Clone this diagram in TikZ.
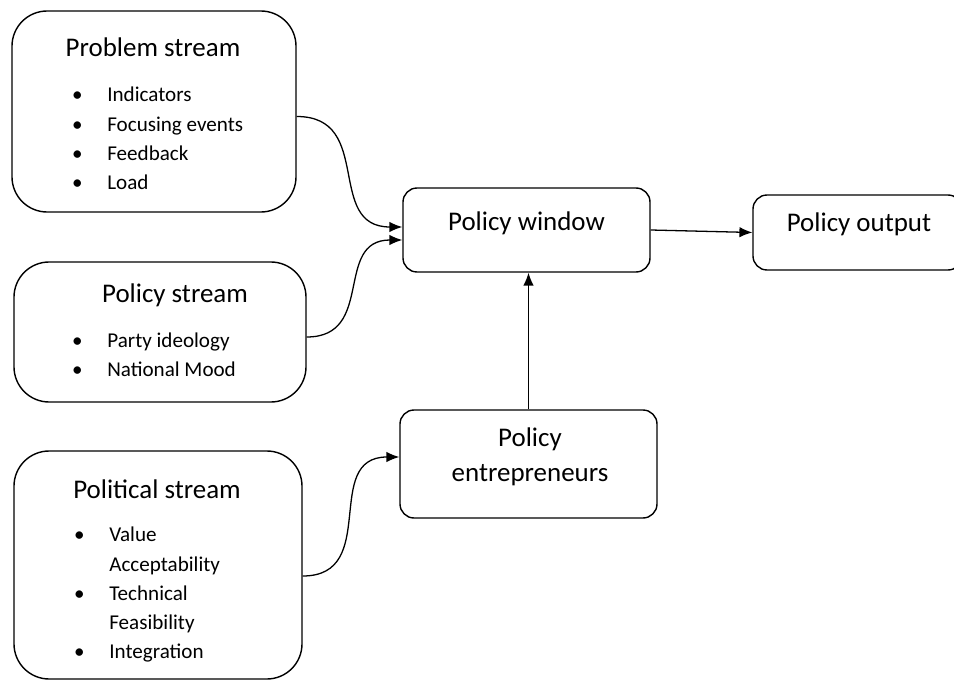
\documentclass[tikz,border=0pt]{standalone}
\usepackage{fontspec}
\setmainfont{Carlito}
\usetikzlibrary{arrows.meta, positioning, fit, calc}

\begin{document}
\begin{tikzpicture}[
        x=0.03cm, y=-0.03cm,
        stream/.style={draw, line width=1.2pt, rounded corners=30pt, inner sep=0pt},
        stage/.style={draw, line width=1.2pt, rounded corners=12pt, inner sep=0pt},
        title/.style={font=\fontsize{23}{30}\selectfont, align=center},
        items/.style={font=\fontsize{18}{25}\selectfont, align=left, inner sep=0pt},
        arr/.style={line width=1.1pt, -{Latex[length=11pt, width=9pt]}},
        curvearr/.style={arr, looseness=1.3}
    ]
        \useasboundingbox (0,0) rectangle (954,681);

        % the three streams
        \node[stream, fit={(12,11)(296,212)}] (prob) {};
        \node[stream, fit={(14,262)(306,402)}] (pols) {};
        \node[stream, fit={(14,451)(302,679)}] (poli) {};

        \node[title] (probT) at (153,47) {Problem stream};
        \node[items, anchor=west] (probL) at (72,140) {\begin{tabular}{@{}l@{\hspace{21pt}}l@{}}
            \textbullet & Indicators\\
            \textbullet & Focusing events\\
            \textbullet & Feedback\\
            \textbullet & Load
        \end{tabular}};

        \node[title] (polsT) at (175,295) {Policy stream};
        \node[items, anchor=west] (polsL) at (72,356) {\begin{tabular}{@{}l@{\hspace{21pt}}l@{}}
            \textbullet & Party ideology\\
            \textbullet & National Mood
        \end{tabular}};

        \node[title] (poliT) at (157,489) {Political stream};
        \node[items, anchor=west] (poliL) at (74,594.5) {\begin{tabular}{@{}l@{\hspace{21pt}}l@{}}
            \textbullet & Value\\
                        & Acceptability\\
            \textbullet & Technical\\
                        & Feasibility\\
            \textbullet & Integration
        \end{tabular}};

        % window, output, entrepreneurs
        \node[stage, fit={(403,188)(650,272)}] (win) {};
        \node[title] at (win.center) [yshift=6pt] {Policy window};
        \node[stage, fit={(753,195)(962,270)}] (out) {};
        \node[title] at (859,224) {Policy output};
        \node[stage, fit={(400,410)(657,518)}] (ent) {};
        \node[title] at (530,457) {Policy\\entrepreneurs};

        \draw[curvearr] ($(prob.east)+(0,5)$) to[out=0, in=180] ($(win.west)+(0,-3)$);
        \draw[curvearr] ($(pols.east)+(0,5)$) to[out=0, in=180] ($(win.west)+(0,10)$);
        \draw[curvearr] ($(poli.east)+(0,11)$) to[out=0, in=180] ($(ent.west)+(0,-7)$);
        \draw[arr] (ent.north) -- (ent.north |- win.south);
        \draw[arr] (win.east) -- (out.west);
    \end{tikzpicture}
\end{document}
